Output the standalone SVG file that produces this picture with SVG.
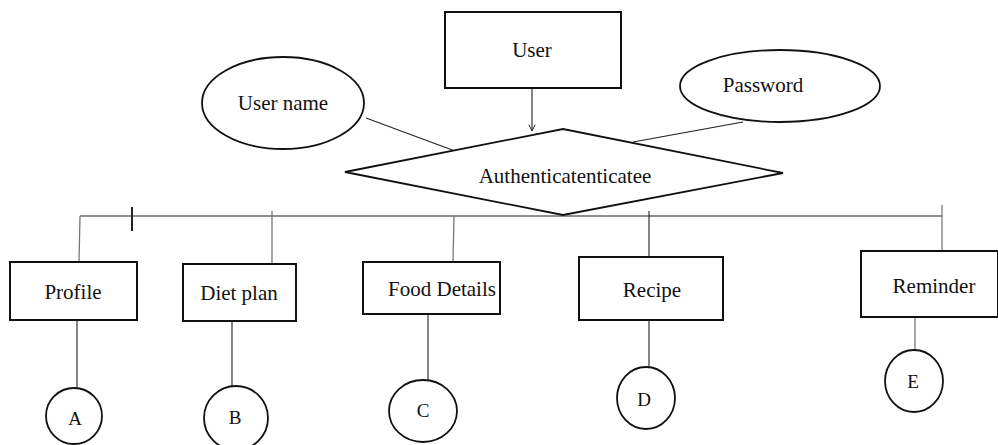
<svg xmlns="http://www.w3.org/2000/svg" width="998" height="445" viewBox="0 0 998 445">
<defs>
<style>
.box{fill:#fff;stroke:#111;stroke-width:2}
.shape{fill:#fff;stroke:#111;stroke-width:1.8}
.ln{fill:none;stroke:#222;stroke-width:1.1}
.gl{fill:none;stroke:#777;stroke-width:1.3}
text{font-size:21px;fill:#111;text-anchor:middle}
.lt{font-size:19px}
</style>
<marker id="arr" viewBox="0 0 10 10" refX="9" refY="5" markerWidth="8" markerHeight="8" orient="auto" markerUnits="userSpaceOnUse">
<path d="M1,1 L9,5 L1,9" fill="none" stroke="#222" stroke-width="1.2"/>
</marker>
</defs>
<rect width="998" height="445" fill="#fff"/>
<g id="connectors">
<line class="ln" x1="532" y1="65" x2="532" y2="131" marker-end="url(#arr)"/>
<line class="ln" x1="366" y1="118" x2="455" y2="151"/>
<line class="ln" x1="743" y1="122" x2="633" y2="142"/>
<line class="ln" x1="80" y1="216" x2="942" y2="216"/>
<line class="ln" x1="132" y1="207" x2="132" y2="231" style="stroke-width:2"/>
<line class="gl" x1="80" y1="216" x2="79" y2="262"/>
<line class="gl" x1="272" y1="211" x2="272" y2="268"/>
<line class="gl" x1="454" y1="216" x2="453" y2="262"/>
<line class="ln" x1="649" y1="211" x2="649" y2="261"/>
<line class="gl" x1="942" y1="205" x2="942" y2="252"/>
<line class="ln" x1="77" y1="320" x2="77" y2="388"/>
<line class="ln" x1="232" y1="321" x2="232" y2="386"/>
<line class="ln" x1="428" y1="311" x2="428" y2="380"/>
<line class="ln" x1="649" y1="320" x2="649" y2="367"/>
<line class="gl" x1="915" y1="311" x2="915" y2="350"/>
</g>
<g font-family="Liberation Serif, Times New Roman, serif">
<g id="user">
<rect class="box" x="445" y="12" width="176" height="76"/>
<text x="532" y="57">User</text>
</g>
<g id="username">
<ellipse class="shape" cx="283" cy="103" rx="81" ry="46"/>
<text x="283" y="110">User name</text>
</g>
<g id="password">
<ellipse class="shape" cx="780" cy="86" rx="100" ry="36"/>
<text x="763" y="92">Password</text>
</g>
<g id="authenticate">
<polygon class="shape" points="345,172 563,129 783,173 563,215"/>
<text x="565" y="183">Authenticatenticatee</text>
</g>
<g id="profile">
<rect class="box" x="10" y="262" width="127" height="58"/>
<text x="73" y="299">Profile</text>
</g>
<g id="dietplan">
<rect class="box" x="183" y="264" width="113" height="57"/>
<text x="239" y="300">Diet plan</text>
</g>
<g id="fooddetails">
<rect class="box" x="363" y="262" width="137" height="52"/>
<text x="442" y="296">Food Details</text>
</g>
<g id="recipe">
<rect class="box" x="579" y="257" width="144" height="63"/>
<text x="652" y="297">Recipe</text>
</g>
<g id="reminder">
<rect class="box" x="861" y="251" width="137" height="66"/>
<text x="934" y="293">Reminder</text>
</g>
<g id="a">
<ellipse class="shape" cx="74" cy="416" rx="28" ry="28"/>
<text class="lt" x="75" y="425">A</text>
</g>
<g id="b">
<ellipse class="shape" cx="236" cy="418" rx="32" ry="32"/>
<text class="lt" x="235" y="424">B</text>
</g>
<g id="c">
<ellipse class="shape" cx="423" cy="411" rx="34" ry="31"/>
<text class="lt" x="423" y="417">C</text>
</g>
<g id="d">
<ellipse class="shape" cx="646" cy="398" rx="29" ry="31"/>
<text class="lt" x="644" y="406">D</text>
</g>
<g id="e">
<ellipse class="shape" cx="914" cy="381" rx="29" ry="31"/>
<text class="lt" x="913" y="388">E</text>
</g>
</g>
</svg>
